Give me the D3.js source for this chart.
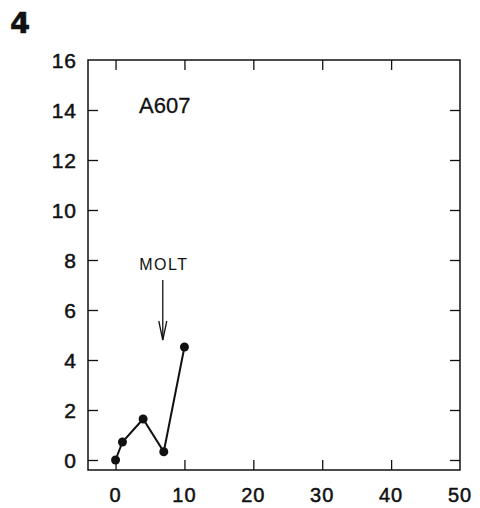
<!DOCTYPE html>
<html>
<head>
<meta charset="utf-8">
<title>A607</title>
<script src="https://cdn.jsdelivr.net/npm/d3@7"></script>
<style>
  body { margin: 0; background: #fff; }
  text { font-family: "Liberation Sans", Arial, sans-serif; fill: #111; stroke: #111; stroke-width: 0.5; }
</style>
</head>
<body>
<script>
// valeurs
var days = [0, 1, 4, 7, 10];
var values = [0, 0.72, 1.64, 0.33, 4.52];
var xTicks = [0, 10, 20, 30, 40, 50];
var yTicks = [0, 2, 4, 6, 8, 10, 12, 14, 16];
var panelLabel = "4";
var seriesLabel = "A607";
var moltDay = 7;

var width = 480, height = 508;
// (pas de "top" : window.top est en lecture seule)
var mLeft = 88, mRight = 460, mTop = 60, mBottom = 470;

var svg = d3.select("body").append("svg")
    .attr("width", width)
    .attr("height", height);

var x = d3.scaleLinear().domain([-4, 50]).range([mLeft, mRight]);
var y = d3.scaleLinear().domain([-0.4, 16]).range([mBottom, mTop]);

// cadre
svg.append("rect")
    .attr("x", mLeft).attr("y", mTop)
    .attr("width", mRight - mLeft).attr("height", mBottom - mTop)
    .attr("fill", "none").attr("stroke", "#111").attr("stroke-width", 1.5);

// graduations vers l'intérieur
var tickLen = 10;
var axisB = d3.axisBottom(x).tickValues(xTicks.slice(0, -1)).tickSize(tickLen).tickFormat("");
var axisT = d3.axisTop(x).tickValues(xTicks.slice(0, -1)).tickSize(tickLen).tickFormat("");
var axisL = d3.axisLeft(y).tickValues(yTicks.slice(0, -1)).tickSize(tickLen).tickFormat("");
var axisR = d3.axisRight(y).tickValues(yTicks.slice(0, -1)).tickSize(tickLen).tickFormat("");

svg.append("g").attr("transform", "translate(0," + (mBottom - tickLen) + ")").call(axisB);
svg.append("g").attr("transform", "translate(0," + (mTop + tickLen) + ")").call(axisT);
svg.append("g").attr("transform", "translate(" + (mLeft + tickLen) + ",0)").call(axisL);
svg.append("g").attr("transform", "translate(" + (mRight - tickLen) + ",0)").call(axisR);
svg.selectAll(".domain").remove();
svg.selectAll(".tick line").attr("stroke", "#111").attr("stroke-width", 1.3);

// étiquettes des axes
svg.append("g").selectAll("text")
    .data(xTicks).enter().append("text")
    .attr("x", function(d) { return x(d); })
    .attr("y", 502)
    .attr("text-anchor", "middle")
    .attr("font-size", 20)
    .attr("letter-spacing", 1)
    .text(function(d) { return d; });

svg.append("g").selectAll("text")
    .data(yTicks).enter().append("text")
    .attr("x", 77)
    .attr("y", function(d) { return y(d); })
    .attr("dy", "0.36em")
    .attr("text-anchor", "end")
    .attr("font-size", 21)
    .attr("letter-spacing", 1)
    .text(function(d) { return d; });

// numéro du panneau
svg.append("text")
    .attr("x", 10).attr("y", 33)
    .attr("font-size", 29).attr("font-weight", "bold")
    .style("font-family", "'DejaVu Sans', sans-serif")
    .text(panelLabel);

svg.append("text")
    .attr("x", 139).attr("y", 113)
    .attr("font-size", 22)
    .style("stroke-width", 0.3)
    .text(seriesLabel);

// courbe
var line = d3.line()
    .x(function(d, i) { return x(days[i]); })
    .y(function(d) { return y(d); });

svg.append("path")
    .datum(values)
    .attr("d", line)
    .attr("fill", "none")
    .attr("stroke", "#111")
    .attr("stroke-width", 2);

svg.append("g").selectAll("circle")
    .data(values).enter().append("circle")
    .attr("cx", function(d, i) { return x(days[i]); })
    .attr("cy", function(d) { return y(d); })
    .attr("r", 4.5)
    .attr("fill", "#111");

// flèche de mue
var ax = x(moltDay) - 1;
svg.append("text")
    .attr("x", ax + 1).attr("y", 270)
    .attr("text-anchor", "middle")
    .attr("font-size", 16)
    .attr("letter-spacing", 1.5)
    .style("stroke", "none")
    .text("MOLT");
svg.append("line")
    .attr("x1", ax).attr("x2", ax)
    .attr("y1", 280).attr("y2", 340)
    .attr("stroke", "#111").attr("stroke-width", 1.3);
svg.append("path")
    .attr("d", "M" + (ax - 4) + ",321L" + ax + ",340L" + (ax + 4) + ",321")
    .attr("fill", "none").attr("stroke", "#111").attr("stroke-width", 1.3);
</script>
</body>
</html>
